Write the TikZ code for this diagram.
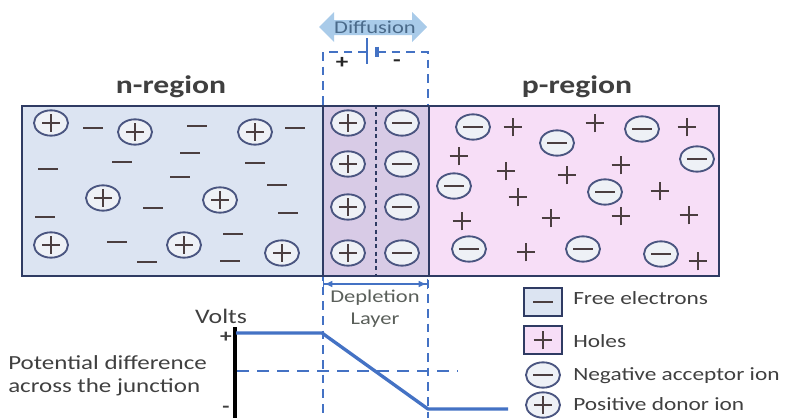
\documentclass[tikz,border=0pt]{standalone}
\usepackage{fontspec}
\setmainfont{Carlito}[FakeStretch=1.25]
\usetikzlibrary{shapes.geometric, arrows.meta}
\definecolor{nfill}{HTML}{DCE4F2}
\definecolor{pfill}{HTML}{F7DEF7}
\definecolor{dfill}{HTML}{D8CBE6}
\definecolor{boxline}{HTML}{2F3B63}
\definecolor{ionline}{HTML}{4A5580}
\definecolor{ionfill}{HTML}{EEF1F6}
\definecolor{signc}{HTML}{4B3E40}
\definecolor{dblue}{HTML}{4472C4}
\definecolor{arrowblue}{HTML}{A9CBE9}
\definecolor{txt}{HTML}{404040}
\definecolor{difftxt}{HTML}{4A6A8A}
\definecolor{deptxt}{HTML}{5A5F5A}
\tikzset{
  region/.style={draw=boxline, line width=1.8pt, minimum height=127.5pt, inner sep=0pt, anchor=north west},
  ion/.style={ellipse, draw=ionline, fill=ionfill, line width=1.4pt, minimum width=25.5pt, minimum height=19pt, inner sep=0pt},
  pion/.style={ion, path picture={\draw[signc, line width=1.4pt] (path picture bounding box.center) +(-6.5pt,0) -- +(6.5pt,0) +(0,-6.5pt) -- +(0,6.5pt);}},
  nion/.style={ion, path picture={\draw[signc, line width=1.4pt] (path picture bounding box.center) +(-7.5pt,0) -- +(7.5pt,0);}},
  elec/.style={minimum width=15pt, minimum height=1.5pt, inner sep=0pt, fill=signc},
  hole/.style={minimum width=14pt, minimum height=14pt, inner sep=0pt, path picture={\draw[signc, line width=1.5pt] (path picture bounding box.center) +(-7pt,0) -- +(7pt,0) +(0,-7pt) -- +(0,7pt);}},
  vdash/.style={dblue, line width=1.9pt, dash pattern=on 6.5pt off 4.5pt},
  hdash/.style={dblue, line width=1.9pt, dash pattern=on 9pt off 6pt},
  label/.style={text=txt, inner sep=0pt},
  legbox/.style={draw=boxline, line width=1.4pt, minimum width=28.5pt, minimum height=21pt, inner sep=0pt},
}
\begin{document}
\begin{tikzpicture}[x=0.75pt, y=-0.75pt]
\useasboundingbox (0,0) rectangle (793,418);

% dashed guide lines
\draw[vdash] (367,52) -- (323,52) -- (323,418);
\draw[vdash] (377,52) -- (428,52) -- (428,418);

% regions
\node[region, fill=nfill, minimum width=225.75pt] (nreg) at (21,105) {};
\node[region, fill=dfill, minimum width=79.5pt] (dreg) at (322,105) {};
\node[region, fill=pfill, minimum width=217.5pt] (preg) at (428,105) {};
\draw[boxline, line width=1.4pt, dash pattern=on 3pt off 2.5pt] (dreg.north) -- (dreg.south);

% battery
\coordinate (bl) at (367,52);
\coordinate (br) at (377,52);
\draw[dblue, line width=1.9pt] ([yshift=10.5pt]bl) -- ([yshift=-9pt]bl);
\draw[dblue, line width=2.3pt] ([yshift=4pt]br) -- ([yshift=-4pt]br);
\node[text=black!85, font=\bfseries\fontsize{15}{15}\selectfont] (bplus) at (342,63) {+};
\node[text=black!85, font=\bfseries\fontsize{15}{15}\selectfont] (bminus) at (397,63) {-};

% diffusion arrow
\fill[arrowblue] (319,27) -- (334,12) -- (334,20) -- (412,20) -- (412,12) -- (427,27) -- (412,42) -- (412,35) -- (334,35) -- (334,42) -- cycle;
\node[text=difftxt, inner sep=0pt, font=\fontsize{13.5}{13.5}\selectfont] (diff) at (375,27) {Diffusion};

% labels
\node[label, font=\bfseries\fontsize{19}{19}\selectfont] (nlab) at (171,87) {n-region};
\node[label, font=\bfseries\fontsize{19}{19}\selectfont] (plab) at (577,87) {p-region};

% n-region ions
\foreach \x/\y [count=\i] in {51/123,135/132,255/132,103/198,220/200,51/245,184/245,282/253}
  \node[pion] (np\i) at (\x,\y) {};
\foreach \x/\y [count=\i] in {93/128,197/126,295/128,190/153,48/169,122/162,180/177,255/163,277/185,153/208,45/217,288/213,117/242,233/234,147/262,230/261}
  \node[elec] (ne\i) at (\x,\y) {};

% depletion ions
\foreach \y [count=\i] in {123,164,207,253} {
  \node[pion] (dp\i) at (348,\y) {};
  \node[nion] (dn\i) at (402,\y) {};
}

% p-region ions
\foreach \x/\y [count=\i] in {473/127,557/143,642/129,697/159,454/186,605/192,469/249,583/249,661/254}
  \node[nion] (pn\i) at (\x,\y) {};
\foreach \x/\y [count=\i] in {513/127,595/123,687/127,459/156,506/171,567/175,621/165,518/197,660/191,462/221,551/218,621/216,689/215,526/252,698/261}
  \node[hole] (ph\i) at (\x,\y) {};

% depletion layer arrow
\coordinate (dla) at (323,284);
\coordinate (dlb) at (428,284);
\draw[dblue, line width=1pt, {Bar[width=8pt]Latex[length=6pt,width=5pt]}-{Latex[length=6pt,width=5pt]Bar[width=8pt]}] (dla) -- (dlb);
\node[text=deptxt, inner sep=0pt, font=\fontsize{13.5}{13.5}\selectfont] (dep) at (375,298) {Depletion};
\node[text=deptxt, inner sep=0pt, font=\fontsize{13.5}{13.5}\selectfont] (lay) at (375,320) {Layer};

% potential graph
\coordinate (ax0) at (235,327);
\coordinate (ax1) at (235,418);
\draw[black, line width=3pt] (ax0) -- (ax1);
\coordinate (v0) at (236,333);
\coordinate (v1) at (322,333);
\coordinate (v2) at (428,409);
\coordinate (v3) at (508,409);
\draw[dblue, line width=2.5pt, line join=round] (v0) -- (v1) -- (v2) -- (v3);
\coordinate (h0) at (237,371);
\coordinate (h1) at (458,371);
\draw[hdash] (h0) -- (h1);

\node[label, font=\fontsize{15.5}{15.5}\selectfont] (volts) at (221,316) {Volts};
\node[label, font=\bfseries\fontsize{14}{14}\selectfont] (vplus) at (226,337) {+};
\node[label, font=\bfseries\fontsize{14}{14}\selectfont] (vminus) at (226,409) {-};
\node[label, anchor=west, font=\fontsize{15}{15}\selectfont] (pd1) at (8,363) {Potential difference};
\node[label, anchor=west, font=\fontsize{15}{15}\selectfont] (pd2) at (8,387) {across the junction};

% legend
\node[legbox, fill=nfill] (lg1) at (543,302) {};
\node[elec] (lg1s) at (lg1.center) {};
\node[legbox, fill=pfill] (lg2) at (543,340) {};
\node[hole] (lg2s) at (lg2.center) {};
\node[nion] (lg3) at (543,375) {};
\node[pion] (lg4) at (543,405) {};
\node[label, anchor=west, font=\fontsize{14}{14}\selectfont] (lt1) at (573,298) {Free electrons};
\node[label, anchor=west, font=\fontsize{14}{14}\selectfont] (lt2) at (573,341) {Holes};
\node[label, anchor=west, font=\fontsize{14}{14}\selectfont] (lt3) at (573,376) {Negative acceptor ion};
\node[label, anchor=west, font=\fontsize{14}{14}\selectfont] (lt4) at (573,404) {Positive donor ion};
\end{tikzpicture}
\end{document}
